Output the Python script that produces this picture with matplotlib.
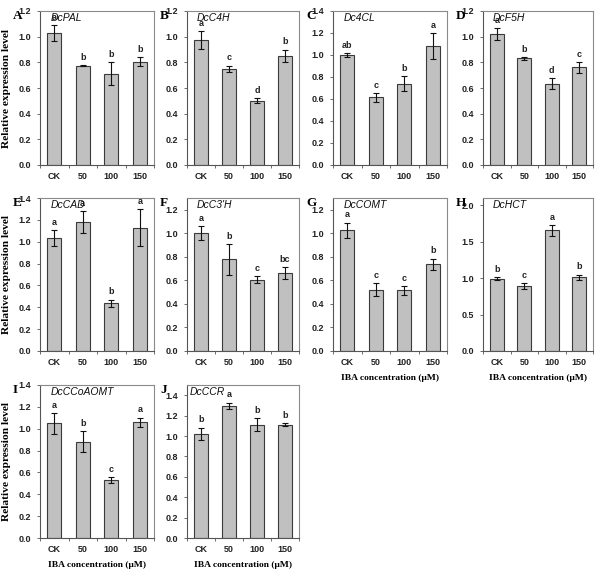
import numpy as np
import matplotlib
matplotlib.use('Agg')
from matplotlib import pyplot as plt

groups = ['CK', '50', '100', '150']

genes = ['DcPAL', 'DcC4H', 'Dc4CL', 'DcF5H', 'DcCAD', "DcC3'H",
         'DcCOMT', 'DcHCT', 'DcCCoAOMT', 'DcCCR']
panel_ids = ['A', 'B', 'C', 'D', 'E', 'F', 'G', 'H', 'I', 'J']

means = [
    [1.03, 0.775, 0.71, 0.805],
    [0.975, 0.75, 0.50, 0.85],
    [1.00, 0.615, 0.74, 1.08],
    [1.02, 0.83, 0.635, 0.76],
    [1.035, 1.18, 0.435, 1.13],
    [1.00, 0.78, 0.605, 0.66],
    [1.025, 0.52, 0.515, 0.735],
    [0.99, 0.89, 1.655, 1.01],
    [1.05, 0.88, 0.53, 1.06],
    [1.02, 1.295, 1.11, 1.11],
]
errors = [
    [0.06, 0.005, 0.09, 0.035],
    [0.07, 0.025, 0.02, 0.05],
    [0.015, 0.04, 0.065, 0.12],
    [0.045, 0.01, 0.04, 0.04],
    [0.07, 0.10, 0.035, 0.17],
    [0.06, 0.13, 0.03, 0.05],
    [0.065, 0.055, 0.035, 0.05],
    [0.02, 0.04, 0.075, 0.04],
    [0.095, 0.095, 0.025, 0.04],
    [0.06, 0.03, 0.065, 0.015],
]
letters = [
    ['a', 'b', 'b', 'b'],
    ['a', 'c', 'd', 'b'],
    ['ab', 'c', 'b', 'a'],
    ['a', 'b', 'd', 'c'],
    ['a', 'a', 'b', 'a'],
    ['a', 'b', 'c', 'bc'],
    ['a', 'c', 'c', 'b'],
    ['b', 'c', 'a', 'b'],
    ['a', 'b', 'c', 'a'],
    ['b', 'a', 'b', 'b'],
]
y_tops = [1.2, 1.2, 1.4, 1.2, 1.4, 1.3, 1.3, 2.1, 1.4, 1.5]
y_steps = [0.2, 0.2, 0.2, 0.2, 0.2, 0.2, 0.2, 0.5, 0.2, 0.2]
y_tick_max = [1.2, 1.2, 1.4, 1.2, 1.4, 1.2, 1.2, 2.0, 1.4, 1.4]

W, H = 600, 575
col_x = [(40, 154), (187, 299), (333, 447), (483, 593)]
row_y = [(11, 165), (198, 351), (385, 538)]

sans = ['Liberation Sans', 'DejaVu Sans']
serif = ['Liberation Serif', 'DejaVu Serif']

fig = plt.figure(figsize=(W / 100, H / 100), dpi=100)

for i in range(10):
    r, c = divmod(i, 4)
    x0, x1 = col_x[c]
    y0, y1 = row_y[r]
    ax = fig.add_axes([x0 / W, 1 - y1 / H, (x1 - x0) / W, (y1 - y0) / H])
    x = np.arange(len(groups))
    ax.bar(x, means[i], width=0.5, color='#c0c0c0', edgecolor='#3a3a3a',
           linewidth=0.8, zorder=2)
    ax.errorbar(x, means[i], yerr=errors[i], fmt='none', ecolor='#111111',
                elinewidth=0.8, capsize=2.2, capthick=0.8, zorder=3)
    pad = 0.022 * y_tops[i]
    for xi, m, e, l in zip(x, means[i], errors[i], letters[i]):
        ax.text(xi, m + e + pad, l, ha='center', va='bottom', fontsize=6.5,
                fontweight='bold', family=sans, color='#222222')
    ax.set_xlim(-0.5, 3.5)
    ax.set_ylim(0, y_tops[i])
    ax.set_yticks(np.arange(0, y_tick_max[i] + 1e-6, y_steps[i]))
    ax.set_yticklabels(['%.1f' % v for v in ax.get_yticks()])
    ax.set_xticks(x)
    ax.set_xticklabels(groups)
    ax.set_xticks(np.arange(-0.5, 4, 1), minor=True)
    ax.tick_params(axis='x', which='major', length=0, pad=5)
    ax.tick_params(axis='x', which='minor', length=2, width=0.6, color='#555555')
    ax.tick_params(axis='y', length=2.5, width=0.6, color='#555555', pad=4)
    for lab in ax.get_xticklabels() + ax.get_yticklabels():
        lab.set_fontsize(6.5)
        lab.set_fontweight('bold')
        lab.set_family(sans)
        lab.set_color('#222222')
    for s in ['left', 'bottom']:
        ax.spines[s].set_color('#555555')
        ax.spines[s].set_linewidth(0.8)
    for s in ['top', 'right']:
        ax.spines[s].set_color('#8a8a8a')
        ax.spines[s].set_linewidth(0.8)
    tx = 0.02 if i == 9 else 0.09
    ax.text(tx, 0.985, genes[i], transform=ax.transAxes, ha='left', va='top',
            fontsize=7.5, fontstyle='italic', family=sans, color='#111111')
    fig.text((x0 - 27) / W, 1 - (y0 - 1) / H, panel_ids[i], ha='left', va='top',
             fontsize=9.5, fontweight='bold', family=serif)
    if c == 0:
        ax.set_ylabel('Relative expression level', fontsize=8.2, fontweight='bold',
                      family=serif)
        ax.yaxis.set_label_coords(-0.25, 0.5)
    if i in (6, 7, 8, 9):
        ax.set_xlabel('IBA concentration (\u03bcM)', fontsize=6.8, fontweight='bold',
                      family=serif, labelpad=5)

fig.savefig('out.png', dpi=100)
